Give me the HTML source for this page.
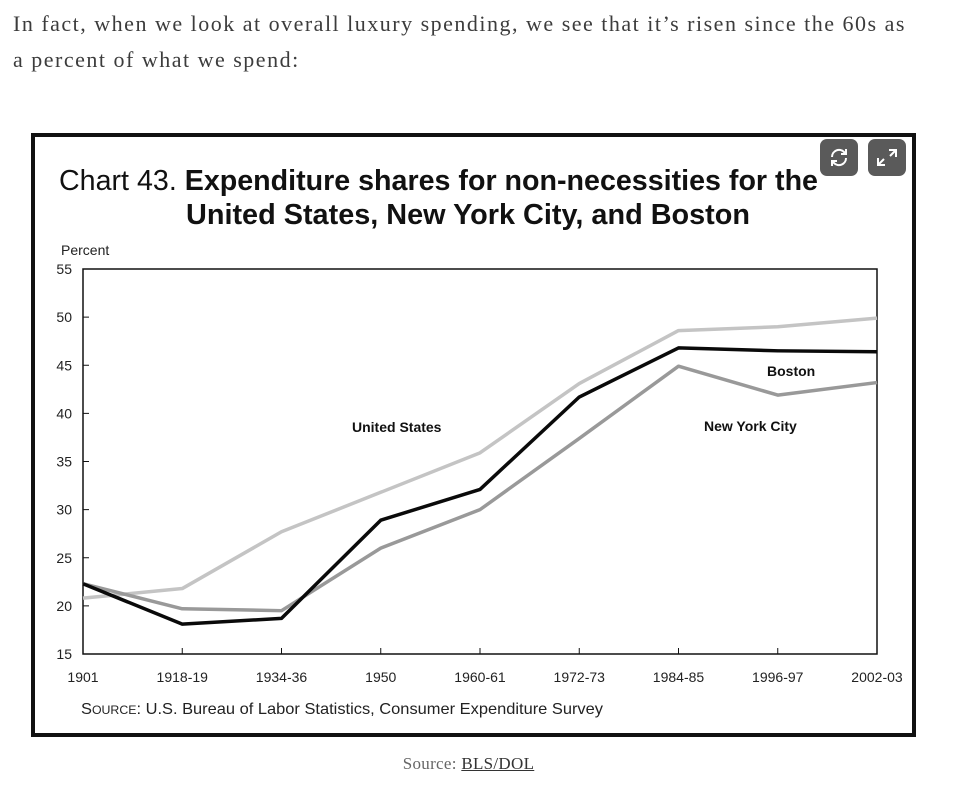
<!DOCTYPE html>
<html><head><meta charset="utf-8">
<style>
body{margin:0;width:959px;height:805px;background:#fff;overflow:hidden;font-family:"Liberation Sans",sans-serif;}
#intro{position:absolute;left:13px;top:6px;width:946px;font-family:"Liberation Serif",serif;font-size:22px;line-height:36px;color:#3c3c3c;letter-spacing:1.5px;white-space:nowrap;}
#frame{position:absolute;left:31px;top:133px;width:877px;height:596px;border:4px solid #111;background:#fff;}
.icon{position:absolute;top:139px;width:38px;height:37px;border-radius:7px;background:#5a5a5a;}
#cap{position:absolute;top:754px;left:0;width:937px;text-align:center;font-family:"Liberation Serif",serif;font-size:17px;color:#666;letter-spacing:0.3px;}
#cap u{color:#333;}
</style></head><body>
<div id="intro">In fact, when we look at overall luxury spending, we see that it’s risen since the 60s as<br>a percent of what we spend:</div>
<div id="frame"></div>
<svg width="959" height="805" style="position:absolute;left:0;top:0" id="chart">
<text x="59" y="190" font-size="29" fill="#111" textLength="759" lengthAdjust="spacingAndGlyphs">Chart 43. <tspan font-weight="bold">Expenditure shares for non-necessities for the</tspan></text>
<text x="186" y="224" font-size="29" font-weight="bold" fill="#111" textLength="564" lengthAdjust="spacingAndGlyphs">United States, New York City, and Boston</text>
<text x="61" y="255" font-size="14" fill="#222">Percent</text>
<rect x="83" y="269" width="794" height="385" fill="none" stroke="#111" stroke-width="1.5"/>
<g id="ticks"></g><g id="lines"></g>
<text x="352" y="432" font-size="14" font-weight="bold" fill="#111">United States</text>
<text x="767" y="376" font-size="14" font-weight="bold" fill="#111">Boston</text>
<text x="704" y="431" font-size="14" font-weight="bold" fill="#111">New York City</text>
<text x="81" y="714" font-size="16" fill="#222" textLength="522" lengthAdjust="spacingAndGlyphs">S<tspan font-size="12">OURCE</tspan>: U.S. Bureau of Labor Statistics, Consumer Expenditure Survey</text>
</svg>
<div class="icon" style="left:820px"><svg width="38" height="37"><path d="M12 18a7 7 0 0 1 12-5l2 2M26 19a7 7 0 0 1-12 5l-2-2" fill="none" stroke="#fff" stroke-width="2"/><path d="M26 10v5h-5M12 27v-5h5" fill="none" stroke="#fff" stroke-width="2"/></svg></div>
<div class="icon" style="left:868px"><svg width="38" height="37"><path d="M21 11h7v7M28 11l-6 6M17 26h-7v-7M10 26l6-6" fill="none" stroke="#fff" stroke-width="2"/></svg></div>
<div id="cap">Source: <u>BLS/DOL</u></div>
<script>
const categories=["1901","1918-19","1934-36","1950","1960-61","1972-73","1984-85","1996-97","2002-03"];
const usValues=[20.8,21.8,27.7,31.8,35.9,43.1,48.6,49.0,49.9];
const bostonValues=[22.3,18.1,18.7,28.9,32.1,41.7,46.8,46.5,46.4];
const nycValues=[22.3,19.7,19.5,26.0,30.0,37.4,44.9,41.9,43.2];
const yTicks=[15,20,25,30,35,40,45,50,55];
const NS="http://www.w3.org/2000/svg";
const x0=83,x1=877,y0=654,y1=269;
const xs=i=>x0+i*(x1-x0)/(categories.length-1);
const ys=v=>y0-(v-15)*(y0-y1)/40;
const tg=document.getElementById('ticks'),lg=document.getElementById('lines');
function mk(t,a,p){const e=document.createElementNS(NS,t);for(const k in a)e.setAttribute(k,a[k]);p.appendChild(e);return e;}
yTicks.forEach(v=>{
 const l=mk('line',{x1:x0,x2:x0+6,y1:ys(v),y2:ys(v),stroke:'#111'},tg);
 
 
 const t=mk('text',{x:x0-11,y:ys(v)+5,'font-size':14,'text-anchor':'end',fill:'#222'},tg);t.textContent=v;
 
 
});
categories.forEach((c,i)=>{
 const l=mk('line',{x1:xs(i),x2:xs(i),y1:y0,y2:y0-6,stroke:'#111'},tg);
 
 
 const t=mk('text',{x:xs(i),y:682,'font-size':14,'text-anchor':'middle',fill:'#222'},tg);t.textContent=c;
 
 
});
function series(vals,color,name){
 const p=mk('polyline',{points:vals.map((v,i)=>xs(i)+','+ys(v)).join(' '),fill:'none',stroke:color,'stroke-width':3.5,'stroke-linejoin':'round'},lg);
 
 
}
series(usValues,'#c4c4c4','line-united-states');
series(nycValues,'#999999','line-new-york-city');
series(bostonValues,'#0a0a0a','line-boston');
</script>
</body></html>
